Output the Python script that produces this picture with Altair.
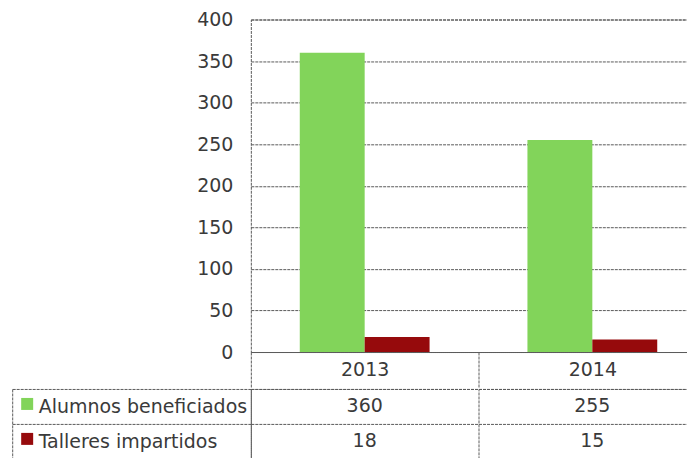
import altair as alt
import pandas as pd

years = ["2013", "2014"]
series = ["Alumnos beneficiados", "Talleres impartidos"]
alumnos = [360, 255]
talleres = [18, 15]
colors = ["#82d45a", "#960a0c"]
y_ticks = [0, 50, 100, 150, 200, 250, 300, 350, 400]

rows = []
for i, yr in enumerate(years):
    rows.append({"year": yr, "serie": series[0], "value": alumnos[i]})
    rows.append({"year": yr, "serie": series[1], "value": talleres[i]})
df = pd.DataFrame(rows)

FONT = "DejaVu Sans"
TXT = "#3a3a3a"
LINE = "#5a5a5a"
DASH = [3, 1]
FS = 19

color_scale = alt.Scale(domain=series, range=colors)
x_scale = alt.Scale(domain=years, paddingInner=0, paddingOuter=0)
row_scale = alt.Scale(domain=series, paddingInner=0, paddingOuter=0)

bars = alt.Chart(df).mark_bar().encode(
    x=alt.X(
        "year:N", scale=x_scale,
        axis=alt.Axis(title=None, labelAngle=0, tickBand="extent", tickSize=36,
                      labelPadding=-18, labelBaseline="middle", domain=False,
                      ticks=True, grid=False),
    ),
    xOffset=alt.XOffset("serie:N", scale=alt.Scale(domain=series, paddingInner=0, paddingOuter=0.754)),
    y=alt.Y(
        "value:Q", scale=alt.Scale(domain=[0, 400]),
        axis=alt.Axis(title=None, values=y_ticks, ticks=False, domain=False,
                      labelPadding=18, grid=True),
    ),
    color=alt.Color(
        "serie:N", scale=color_scale,
        legend=alt.Legend(orient="none", legendX=-230, legendY=379, title=None,
                          symbolType="square", symbolSize=144, symbolStrokeWidth=0,
                          symbolOpacity=1, labelExpr="''", rowPadding=23, padding=0,
                          labelOffset=0),
    ),
).properties(width=456, height=333)

table = alt.Chart(df).mark_text(baseline="middle", font=FONT, fontSize=FS, color=TXT).encode(
    x=alt.X("year:N", scale=x_scale,
            axis=alt.Axis(title=None, labels=False, ticks=False, domain=False, grid=True, tickBand="extent")),
    y=alt.Y("serie:N", scale=row_scale,
            axis=alt.Axis(title=None, orient="left", offset=239, tickSize={"expr": "-239"},
                          tickBand="extent", labelAlign="left", labelPadding=213,
                          labelBaseline="middle", labelLimit=400, domain=True, ticks=True, grid=True)),
    text="value:Q",
).properties(width=456, height=70)

chart = alt.vconcat(bars, table, spacing=-12).properties(
    padding={"left": 3.2, "top": 1.2, "right": -20.2, "bottom": 0},
    background="white",
).configure_view(
    stroke=LINE, strokeDash=DASH, strokeWidth=1
).configure_axis(
    labelFont=FONT, labelFontSize=FS, labelColor=TXT,
    gridColor=LINE, gridDash=DASH, gridWidth=1, gridOpacity=1,
    tickColor=LINE, tickDash=DASH, tickWidth=1,
    domainColor=LINE, domainDash=DASH, domainWidth=1,
)

chart.save("out.html", embed_options={"renderer": "svg", "actions": False})
